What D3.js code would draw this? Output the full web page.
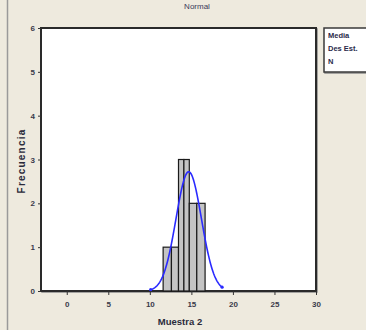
<!DOCTYPE html>
<html>
<head>
<meta charset="utf-8">
<script src="https://cdn.jsdelivr.net/npm/d3@7"></script>
<style>
  html, body { margin: 0; padding: 0; background: #EEEADE; }
  svg { display: block; }
  text { font-family: "Liberation Sans", Arial, sans-serif; }
</style>
</head>
<body>
<svg id="chart" width="366" height="330"></svg>
<script>
// ---- data ----
const title = "Normal";
const xLabel = "Muestra 2";
const yLabel = "Frecuencia";
const xTicks = [0, 5, 10, 15, 20, 25, 30];
const yTicks = [0, 1, 2, 3, 4, 5, 6];
const binStarts = [11.6, 12.6, 13.45, 14.1, 14.75, 15.65];
const binEnds   = [12.6, 13.45, 14.1, 14.75, 15.65, 16.65];
const binCounts = [1, 1, 3, 3, 2, 2];
const curveMean = 14.68;
const curveSd = 1.53;
const curvePeak = 2.72;
const curveRange = [10.1, 18.7];
const legendLabels = ["Media", "Des Est.", "N"];

// ---- layout ----
const svg = d3.select("#chart");
const pLeft = 41, pTop = 28, pRight = 316, pBottom = 291;
const x = d3.scaleLinear().domain([-3.1, 30]).range([pLeft, pRight]);
const y = d3.scaleLinear().domain([0, 6]).range([pBottom, pTop]);

// outer frame line
svg.append("line").attr("x1", 7.5).attr("x2", 7.5).attr("y1", 0).attr("y2", 330)
  .attr("stroke", "#9a9a9a").attr("stroke-width", 1.5);

// title
svg.append("text").attr("x", 197).attr("y", 9).attr("text-anchor", "middle")
  .attr("font-size", 8).attr("fill", "#3a3a5a").text(title);

// plot area shadow + background
svg.append("rect").attr("x", pLeft + 1).attr("y", pTop + 1)
  .attr("width", pRight - pLeft).attr("height", pBottom - pTop)
  .attr("fill", "none").attr("stroke", "#8a8a8a").attr("stroke-width", 1.5);
svg.append("rect").attr("x", pLeft).attr("y", pTop)
  .attr("width", pRight - pLeft).attr("height", pBottom - pTop)
  .attr("fill", "#ffffff").attr("stroke", "#2a2a2a").attr("stroke-width", 2);

// bars
const bins = binCounts.map((c, i) => ({ x0: binStarts[i], x1: binEnds[i], c }));
svg.append("g").selectAll("rect").data(bins).join("rect")
  .attr("x", d => x(d.x0)).attr("y", d => y(d.c))
  .attr("width", d => x(d.x1) - x(d.x0)).attr("height", d => y(0) - y(d.c))
  .attr("fill", "#c4c4c4").attr("stroke", "#1a1a1a").attr("stroke-width", 1.2);

// normal curve
const n = 120;
const pts = d3.range(n + 1).map(i => {
  const v = curveRange[0] + (curveRange[1] - curveRange[0]) * i / n;
  const z = (v - curveMean) / curveSd;
  return [v, curvePeak * Math.exp(-z * z / 2)];
});
svg.append("path").datum(pts)
  .attr("d", d3.line().x(d => x(d[0])).y(d => y(d[1])))
  .attr("fill", "none").attr("stroke", "#2a2aff").attr("stroke-width", 1.6);
svg.append("g").selectAll("circle").data([pts[0], pts[n]]).join("circle")
  .attr("cx", d => x(d[0])).attr("cy", d => y(d[1])).attr("r", 1.6).attr("fill", "#2a2aff");

// axes
const xAxis = svg.append("g").attr("transform", `translate(0,${pBottom})`)
  .call(d3.axisBottom(x).tickValues(xTicks).tickFormat(d3.format("d")).tickSize(4).tickPadding(6));
const yAxis = svg.append("g").attr("transform", `translate(${pLeft},0)`)
  .call(d3.axisLeft(y).tickValues(yTicks).tickFormat(d3.format("d")).tickSize(3).tickPadding(3));
[xAxis, yAxis].forEach(a => {
  a.select(".domain").remove();
  a.selectAll("line").attr("stroke", "#333");
  a.selectAll("text").attr("font-size", 8).attr("font-weight", "bold")
    .attr("fill", "#3a3a4a").attr("font-family", "'Liberation Sans', Arial, sans-serif");
});

// axis labels
svg.append("text").attr("x", 180).attr("y", 325).attr("text-anchor", "middle")
  .attr("font-size", 9.5).attr("font-weight", "bold").attr("fill", "#2a2a3a").text(xLabel);
svg.append("text").attr("transform", "translate(25,161) rotate(-90)")
  .attr("text-anchor", "middle").attr("font-size", 10).attr("font-weight", "bold")
  .attr("letter-spacing", 1.2).attr("fill", "#2a2a3a").text(yLabel);

// legend box
svg.append("rect").attr("x", 325).attr("y", 29).attr("width", 50).attr("height", 44)
  .attr("fill", "none").attr("stroke", "#8a8a8a").attr("stroke-width", 1.5);
svg.append("rect").attr("x", 324).attr("y", 28).attr("width", 50).attr("height", 44)
  .attr("fill", "#ffffff").attr("stroke", "#3a3a3a").attr("stroke-width", 1.5);
svg.append("g").selectAll("text").data(legendLabels).join("text")
  .attr("x", 328).attr("y", (d, i) => 38 + i * 13)
  .attr("font-size", 7.5).attr("font-weight", "bold").attr("fill", "#2a2a4a").text(d => d);
</script>
</body>
</html>
